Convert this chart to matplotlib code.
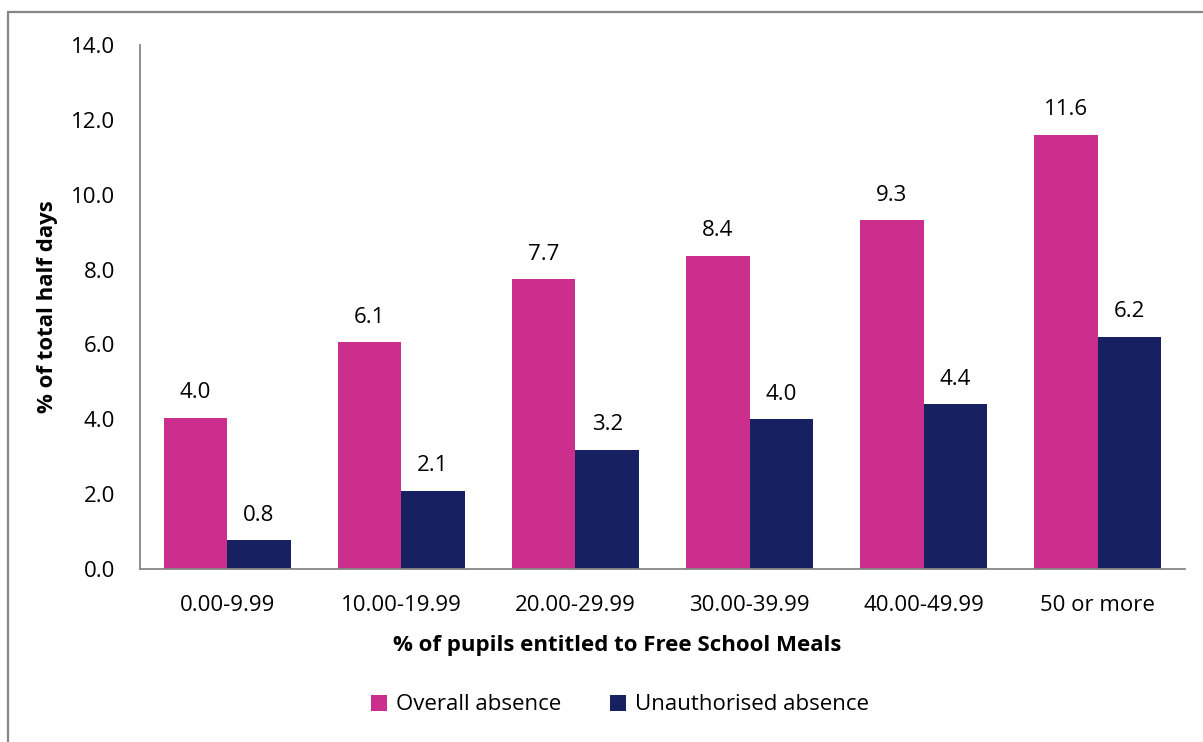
import matplotlib
matplotlib.use("Agg")
import matplotlib.pyplot as plt
import matplotlib.patches as patches
import numpy as np

# data
categories = ["0.00-9.99", "10.00-19.99", "20.00-29.99", "30.00-39.99", "40.00-49.99", "50 or more"]
overall = [4.04, 6.06, 7.74, 8.37, 9.32, 11.6]
unauthorised = [0.77, 2.09, 3.18, 4.0, 4.4, 6.2]
series_names = ["Overall absence", "Unauthorised absence"]

pink = "#CC2E8E"
navy = "#172162"
grey = "#868686"

plt.rcParams['font.family'] = ['Open Sans', 'DejaVu Sans']

fig = plt.figure(figsize=(12.03, 7.42), dpi=100)
ax = fig.add_axes([140/1203, 1 - 569/742, (1185 - 140)/1203, (569 - 45)/742])

# outer frame like the excel chart area
frame = patches.Rectangle((8/1203, -0.05), 1.1, 1 - 12/742 + 0.05, transform=fig.transFigure,
                          fill=False, edgecolor=grey, linewidth=1.6)
fig.patches.append(frame)

x = np.arange(len(categories))
w = 0.365
b1 = ax.bar(x - w/2, overall, w, color=pink, label=series_names[0])
b2 = ax.bar(x + w/2, unauthorised, w, color=navy, label=series_names[1])

for bars, vals in [(b1, overall), (b2, unauthorised)]:
    for r, v in zip(bars, vals):
        ax.annotate("{:.1f}".format(v), (r.get_x() + r.get_width()/2, v),
                    xytext=(0, 18), textcoords="offset points",
                    ha="center", va="center", fontsize=16)

ax.set_xlim(-0.5, len(categories) - 0.5)
ax.set_ylim(0, 14)
ax.set_yticks(np.arange(0, 15, 2))
ax.set_yticklabels(["{:.1f}".format(t) for t in np.arange(0, 15, 2)])
ax.set_xticks(x)
ax.set_xticklabels(categories)
ax.tick_params(axis='both', length=0, labelsize=16)
ax.tick_params(axis='y', pad=18)
ax.tick_params(axis='x', pad=19)

for s in ["top", "right"]:
    ax.spines[s].set_visible(False)
for s in ["left", "bottom"]:
    ax.spines[s].set_color(grey)
    ax.spines[s].set_linewidth(1.3)

ax.set_xlabel("% of pupils entitled to Free School Meals", fontsize=16, fontweight="bold")
ax.xaxis.set_label_coords((617 - 140)/1045, -(645 - 569)/524)
ax.xaxis.label.set_va("center")
ax.set_ylabel("% of total half days", fontsize=16, fontweight="bold", labelpad=9)

fig.legend(handles=[b1, b2], labels=series_names, loc="center", bbox_to_anchor=(620/1203, 1 - 705/742),
           ncol=2, frameon=False, fontsize=16, handlelength=0.7, handleheight=0.7,
           handletextpad=0.4, columnspacing=2.2)

fig.savefig("out.png", dpi=100)
